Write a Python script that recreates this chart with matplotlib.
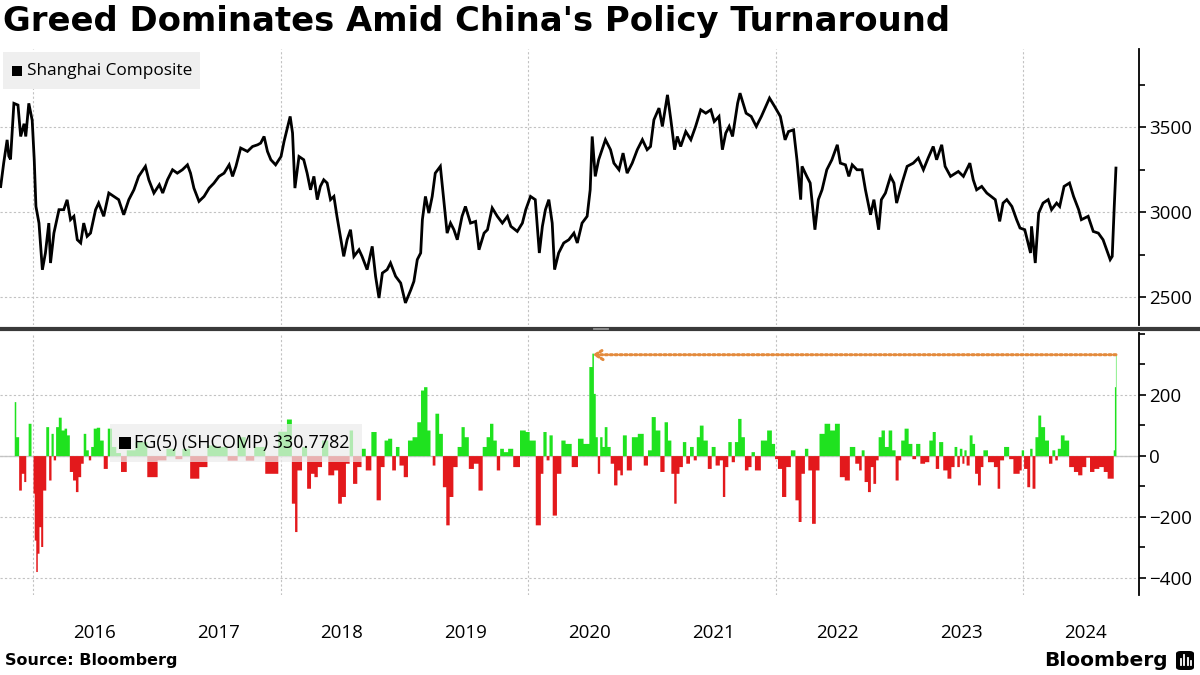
import matplotlib
matplotlib.use('Agg')
import matplotlib.pyplot as plt
import matplotlib.dates as mdates
from matplotlib.patches import Rectangle, FancyBboxPatch
from matplotlib.lines import Line2D
from matplotlib.ticker import MultipleLocator, FixedLocator
import numpy as np
import pandas as pd

title = "Greed Dominates Amid China's Policy Turnaround"
source = "Source: Bloomberg"
line_label = "Shanghai Composite"
fg_label = "FG(5) (SHCOMP)"

# Shanghai Composite
sh_dates = [
    '2015-09-28', '2015-10-07', '2015-10-17', '2015-10-22', '2015-10-27', '2015-11-06', '2015-11-18',
    '2015-11-26', '2015-12-06', '2015-12-11', '2015-12-20', '2015-12-30',
    '2016-01-05', '2016-01-10', '2016-01-19', '2016-01-29', '2016-02-07', '2016-02-17', '2016-02-22',
    '2016-03-03', '2016-03-18', '2016-04-01', '2016-04-11', '2016-04-21', '2016-05-01', '2016-05-11',
    '2016-05-21', '2016-05-30', '2016-06-09', '2016-06-19', '2016-07-04', '2016-07-13', '2016-07-28',
    '2016-08-12', '2016-08-27', '2016-09-10', '2016-09-25', '2016-10-10', '2016-10-25', '2016-11-08',
    '2016-11-28', '2016-12-08', '2016-12-23',
    '2017-01-08', '2017-01-18', '2017-02-01', '2017-02-16', '2017-03-02', '2017-03-17', '2017-04-01',
    '2017-04-10', '2017-04-20', '2017-05-05', '2017-05-20', '2017-06-04', '2017-06-18', '2017-07-03',
    '2017-07-18', '2017-08-02', '2017-08-12', '2017-08-22', '2017-09-05', '2017-09-25', '2017-10-10',
    '2017-10-25', '2017-11-03', '2017-11-13', '2017-11-23', '2017-12-03', '2017-12-17',
    '2018-01-02', '2018-01-11', '2018-01-29', '2018-02-05', '2018-02-12', '2018-02-24', '2018-03-10',
    '2018-03-20', '2018-03-30', '2018-04-09', '2018-04-19', '2018-04-28', '2018-05-08', '2018-05-18',
    '2018-05-28', '2018-06-07', '2018-06-16', '2018-06-26', '2018-07-06', '2018-07-16', '2018-07-26',
    '2018-08-05', '2018-08-20', '2018-08-29', '2018-09-13', '2018-09-28', '2018-10-08', '2018-10-18',
    '2018-10-28', '2018-11-11', '2018-11-21', '2018-12-06', '2018-12-21',
    '2019-01-04', '2019-01-20', '2019-01-29', '2019-02-08', '2019-02-18', '2019-02-23', '2019-03-04',
    '2019-03-14', '2019-03-24', '2019-04-02', '2019-04-17', '2019-04-27', '2019-05-07', '2019-05-17',
    '2019-05-27', '2019-06-06', '2019-06-20', '2019-06-30', '2019-07-15', '2019-07-30', '2019-08-09',
    '2019-08-24', '2019-09-03', '2019-09-17', '2019-10-02', '2019-10-17', '2019-11-01', '2019-11-11',
    '2019-11-30', '2019-12-15', '2019-12-25',
    '2020-01-08', '2020-01-22', '2020-02-03', '2020-02-12', '2020-02-21', '2020-03-02', '2020-03-12',
    '2020-03-19', '2020-03-31', '2020-04-15', '2020-04-30', '2020-05-15', '2020-05-25', '2020-06-08',
    '2020-06-23', '2020-07-02', '2020-07-08', '2020-07-17', '2020-07-27', '2020-08-06', '2020-08-16',
    '2020-08-31', '2020-09-10', '2020-09-25', '2020-10-07', '2020-10-19', '2020-11-03', '2020-11-18',
    '2020-12-03', '2020-12-17', '2020-12-27',
    '2021-01-06', '2021-01-21', '2021-01-31', '2021-02-15', '2021-02-25', '2021-03-08', '2021-03-16',
    '2021-03-26', '2021-04-10', '2021-04-25', '2021-05-09', '2021-05-24', '2021-06-08', '2021-06-23',
    '2021-07-03', '2021-07-17', '2021-07-27', '2021-08-06', '2021-08-16', '2021-08-26', '2021-09-10',
    '2021-09-17', '2021-10-05', '2021-10-20', '2021-11-04', '2021-11-19', '2021-12-13', '2021-12-28',
    '2022-01-14', '2022-01-28', '2022-02-07', '2022-02-22', '2022-03-04', '2022-03-15', '2022-03-19',
    '2022-04-02', '2022-04-12', '2022-04-26', '2022-05-06', '2022-05-17', '2022-05-31', '2022-06-15',
    '2022-07-01', '2022-07-10', '2022-07-25', '2022-08-04', '2022-08-14', '2022-08-28', '2022-09-12',
    '2022-09-22', '2022-10-07', '2022-10-17', '2022-10-31', '2022-11-08', '2022-11-20', '2022-12-05',
    '2022-12-15', '2022-12-23',
    '2023-01-08', '2023-01-23', '2023-02-10', '2023-02-25', '2023-03-12', '2023-03-26', '2023-04-10',
    '2023-04-20', '2023-05-05', '2023-05-15', '2023-05-31', '2023-06-08', '2023-06-23', '2023-07-08',
    '2023-07-27', '2023-08-06', '2023-08-16', '2023-08-31', '2023-09-15', '2023-10-10', '2023-10-23',
    '2023-11-02', '2023-11-13', '2023-11-28', '2023-12-12', '2023-12-22',
    '2024-01-05', '2024-01-22', '2024-01-25', '2024-02-05', '2024-02-15', '2024-02-28', '2024-03-14',
    '2024-03-24', '2024-04-08', '2024-04-17', '2024-04-30', '2024-05-16', '2024-05-28', '2024-06-12',
    '2024-06-20', '2024-07-10', '2024-07-25', '2024-08-09', '2024-08-23', '2024-09-13', '2024-09-19',
    '2024-09-25', '2024-09-30',
]
sh_values = [
    3150, 3290, 3425, 3330, 3310, 3640, 3630, 3445, 3520, 3445, 3640, 3540,
    3308, 3033, 2935, 2660, 2759, 2935, 2700, 2876, 3014, 3014, 3072, 2955, 2975, 2837,
    2818, 2935, 2857, 2876, 3014, 3053, 2975, 3112, 3092, 3073, 2984, 3073, 3131, 3210,
    3269, 3190, 3112,
    3161, 3112, 3190, 3249, 3229, 3249, 3278, 3229, 3141, 3063, 3092, 3141, 3170, 3210,
    3229, 3278, 3210, 3269, 3377, 3357, 3386, 3396, 3406, 3445, 3357, 3308, 3278,
    3327, 3416, 3563, 3465, 3141, 3327, 3308, 3229, 3131, 3210, 3073, 3151, 3190, 3171,
    3073, 3092, 2975, 2857, 2739, 2837, 2896, 2739, 2778, 2739, 2661, 2798, 2621, 2494,
    2641, 2661, 2700, 2622, 2582,
    2465, 2543, 2592, 2720, 2759, 2955, 3092, 2994, 3092, 3229, 3269, 3073, 2876, 2935,
    2896, 2837, 2975, 3033, 2935, 2945, 2778, 2876, 2896, 3024, 2975, 2935, 2975, 2916,
    2886, 2935, 3014,
    3092, 3073, 2759, 2916, 3014, 3073, 2935, 2661, 2759, 2818, 2837, 2876, 2818, 2935,
    2975, 3131, 3445, 3210, 3308, 3367, 3426, 3367, 3288, 3249, 3347, 3229, 3288, 3367,
    3426, 3367, 3386,
    3543, 3612, 3504, 3690, 3543, 3367, 3445, 3386, 3474, 3426, 3504, 3602, 3582, 3602,
    3533, 3563, 3367, 3465, 3504, 3445, 3641, 3700, 3582, 3563, 3504, 3563, 3671, 3622,
    3563, 3425, 3474, 3484, 3308, 3073, 3269, 3210, 3171, 2896, 3073, 3131, 3249, 3308,
    3396, 3288, 3278, 3210, 3278, 3249, 3249, 3131, 2984, 3073, 2896, 3073, 3112, 3210,
    3171, 3053,
    3171, 3269, 3288, 3318, 3249, 3318, 3386, 3308, 3396, 3269, 3210, 3220, 3239, 3210,
    3288, 3190, 3131, 3151, 3112, 3073, 2945, 3053, 3073, 3033, 2955, 2906,
    2896, 2759, 2916, 2700, 2994, 3053, 3073, 3014, 3053, 3033, 3151, 3171, 3092, 3014,
    2955, 2975, 2886, 2876, 2837, 2720, 2739, 3033, 3259,
]

# FG(5) indicator on SHCOMP
fg_dates = [
    '2015-11-07', '2015-11-16', '2015-11-24', '2015-12-02', '2015-12-08', '2015-12-14', '2015-12-22', '2015-12-31',
    '2016-01-03', '2016-01-07', '2016-01-12', '2016-01-16', '2016-01-22', '2016-01-26', '2016-02-03', '2016-02-13',
    '2016-02-20', '2016-02-27', '2016-03-04', '2016-03-12', '2016-03-20', '2016-03-29', '2016-04-06', '2016-04-13',
    '2016-04-22', '2016-05-02', '2016-05-09', '2016-05-17', '2016-05-25', '2016-06-01', '2016-06-09', '2016-06-16',
    '2016-06-23', '2016-07-01', '2016-07-11', '2016-07-21', '2016-08-01', '2016-08-14', '2016-08-26', '2016-09-08',
    '2016-09-23', '2016-10-12', '2016-11-13', '2016-12-21',
    '2017-01-13', '2017-02-11', '2017-03-07', '2017-03-24', '2017-04-22', '2017-05-17', '2017-06-09', '2017-07-09',
    '2017-08-14', '2017-09-06', '2017-10-01', '2017-10-26', '2017-12-05',
    '2018-01-11', '2018-01-25', '2018-02-09', '2018-02-13', '2018-02-23', '2018-03-12', '2018-03-25', '2018-04-04',
    '2018-04-14', '2018-04-24', '2018-05-09', '2018-05-31', '2018-06-13', '2018-06-23', '2018-07-05', '2018-07-17',
    '2018-07-27', '2018-08-06', '2018-08-21', '2018-08-31', '2018-09-15', '2018-10-03', '2018-10-16', '2018-10-28',
    '2018-11-07', '2018-11-18', '2018-12-01', '2018-12-10', '2018-12-22',
    '2019-01-04', '2019-01-16', '2019-01-31', '2019-02-13', '2019-02-22', '2019-03-03', '2019-03-14', '2019-03-21',
    '2019-03-27', '2019-04-06', '2019-04-18', '2019-04-28', '2019-05-08', '2019-05-18', '2019-05-30', '2019-06-12',
    '2019-06-22', '2019-07-01', '2019-07-16', '2019-07-31', '2019-08-12', '2019-08-25', '2019-09-04', '2019-09-14',
    '2019-09-24', '2019-10-04', '2019-10-14', '2019-10-26', '2019-11-08', '2019-11-25', '2019-12-18', '2019-12-29',
    '2020-01-10', '2020-02-03', '2020-02-09', '2020-02-18', '2020-02-28', '2020-03-06', '2020-03-18', '2020-03-31',
    '2020-04-13', '2020-04-25', '2020-05-19', '2020-06-01', '2020-06-21', '2020-07-05', '2020-07-09', '2020-07-14',
    '2020-07-20', '2020-07-26', '2020-08-03', '2020-08-09', '2020-08-16', '2020-08-25', '2020-09-04', '2020-09-14',
    '2020-09-24', '2020-10-01', '2020-10-09', '2020-10-24', '2020-11-08', '2020-11-28', '2020-12-13', '2020-12-23',
    '2021-01-04', '2021-01-16', '2021-01-31', '2021-02-10', '2021-02-20', '2021-03-02', '2021-03-09', '2021-03-16',
    '2021-03-26', '2021-04-05', '2021-04-15', '2021-04-27', '2021-05-07', '2021-05-15', '2021-05-25', '2021-06-06',
    '2021-06-19', '2021-06-29', '2021-07-12', '2021-07-24', '2021-07-30', '2021-08-07', '2021-08-17', '2021-08-27',
    '2021-09-05', '2021-09-15', '2021-09-25', '2021-10-05', '2021-10-16', '2021-10-23', '2021-11-05', '2021-11-27',
    '2021-12-12', '2021-12-25', '2021-12-31',
    '2022-01-11', '2022-01-24', '2022-02-05', '2022-02-20', '2022-03-04', '2022-03-11', '2022-03-21', '2022-03-31',
    '2022-04-10', '2022-04-22', '2022-05-02', '2022-05-14', '2022-06-01', '2022-06-16', '2022-06-29', '2022-07-15',
    '2022-07-28', '2022-08-14', '2022-08-29', '2022-09-06', '2022-09-13', '2022-09-23', '2022-10-03', '2022-10-10',
    '2022-10-18', '2022-10-26', '2022-11-02', '2022-11-12', '2022-11-22', '2022-12-04', '2022-12-13', '2022-12-24',
    '2022-12-31',
    '2023-01-08', '2023-01-20', '2023-02-01', '2023-02-11', '2023-02-23', '2023-03-08', '2023-03-23', '2023-04-02',
    '2023-04-12', '2023-04-20', '2023-05-02', '2023-05-14', '2023-05-27', '2023-06-06', '2023-06-15', '2023-06-22',
    '2023-06-30', '2023-07-07', '2023-07-12', '2023-07-20', '2023-07-30', '2023-08-06', '2023-08-14', '2023-08-23',
    '2023-08-31', '2023-09-07', '2023-09-27', '2023-10-12', '2023-10-19', '2023-10-27', '2023-11-11', '2023-11-26',
    '2023-12-06', '2023-12-16', '2023-12-23', '2023-12-28',
    '2024-01-06', '2024-01-16', '2024-01-23', '2024-01-30', '2024-02-09', '2024-02-16', '2024-02-26', '2024-03-10',
    '2024-03-20', '2024-03-30', '2024-04-06', '2024-04-14', '2024-04-24', '2024-05-06', '2024-05-21', '2024-06-03',
    '2024-06-15', '2024-06-28', '2024-07-08', '2024-07-20', '2024-08-03', '2024-08-18', '2024-08-29', '2024-09-10',
    '2024-09-20', '2024-09-24', '2024-09-27', '2024-09-30',
]
fg_values = [
    177, 62, -113, -58, -85, 0, 106, 0,
    -123, -277, -380, -320, -233, -298, -113, 95, -80, 73, -14, 95, 126, 84, 90, 68,
    -52, -80, -118, -69, -25, 73, 19, -14, 30, 90, 93, 51, -42, 90, 30, 10,
    -52, 19, 46, -69,
    -14, 24, -10, 24, -74, -36, 35, 30, -15, 62, -15, 30, -58,
    80, 120, -156, -249, -47, 30, -107, -58, -69, -36, 51, -63, -47, -156, -134, -25,
    84, -91, -36, 24, -47, 79, -145, -36, 51, 57, -47, 30, -31,
    -69, 51, 62, 111, 215, 226, 84, 0, -31, 139, 73, -102, -227, -134, -36, 30,
    95, 62, -42, -25, -113, 30, 62, 106, 51, -47, 24, 13, 24, -36, 84, 79,
    51, -227, -58, 79, -14, 68, -195, -58, 51, 40, -36, 57, 40, 292, 336, 204,
    62, -58, 62, 30, 95, 30, -25, -96, -47, -63, 68, -47, 62, 73, -31, 19,
    128, 84, -52, 111, 51, -58, -156, -58, -36, 46, -25, 30, -14, 62, 100, 51,
    -42, 30, -31, -14, -134, -36, 46, -20, 46, 122, 62, -47, -36, 13, -47, 51,
    84, 40, -10,
    -42, -134, -36, 19, -145, -216, -58, 24, -47, -222, -47, 73, 106, 84, 106, -69,
    -80, 30, -25, -47, 19, -85, -118, -36, -91, -14, 62, 84, 30, 84, 19, -80,
    -14,
    51, 90, 40, -10, 40, -25, -20, 51, 79, -42, 46, -47, -74, -36, 30, -36,
    24, -25, 19, -31, 68, 40, -58, -96, -36, 19, -20, -36, -107, -14, 30, -10,
    -58, -58, -47, 19,
    -42, -102, 24, -107, 62, 133, 95, 51, -25, 19, -14, 24, 68, 51, -36, -52,
    -63, -36, -5, -52, -42, -36, -52, -74, -74, 19, 226, 330.7782,
]

W, H = 1200, 675
fig = plt.figure(figsize=(12, 6.75), dpi=100)


def fx(x):
    return x / W


def fy(y):
    return 1 - y / H


ax1 = fig.add_axes([0, fy(325), fx(1139), (325 - 49) / H])
ax2 = fig.add_axes([0, fy(595), fx(1139), (595 - 333) / H], sharex=ax1)

sh_d = pd.to_datetime(sh_dates)
fg_d = pd.to_datetime(fg_dates)
fg_v = np.array(fg_values, dtype=float)

green = '#1fe21f'
red = '#e3191c'
grid_kw = dict(color='#c2c2c2', linestyle=(0, (2, 2)), linewidth=0.8)

ax1.plot(sh_d, sh_values, color='black', lw=2.0, solid_joinstyle='miter')

ax2.axhline(0, color='#c8c8c8', lw=1, zorder=0.8)
ax2.fill_between(fg_d, 0, np.where(fg_v > 0, fg_v, 0), step='mid', color=green, lw=0, zorder=2)
ax2.fill_between(fg_d, 0, np.where(fg_v < 0, fg_v, 0), step='mid', color=red, lw=0, zorder=2)

# dotted arrow from the latest reading back to the previous high
i_peak = int(np.argmax(fg_v[:-1]))
ax2.annotate('', xy=(fg_d[i_peak], fg_v[-1]), xytext=(fg_d[-1], fg_v[-1]),
             arrowprops=dict(arrowstyle='->,head_length=0.55,head_width=0.35',
                             color='#e38a3c', lw=2.2, linestyle=(0, (0.7, 0.9)),
                             shrinkA=0, shrinkB=0), zorder=3)

for ax in (ax1, ax2):
    for s in ('left', 'top', 'bottom'):
        ax.spines[s].set_visible(False)
    ax.spines['right'].set_linewidth(1.3)
    ax.yaxis.tick_right()
    ax.tick_params(axis='y', which='major', direction='out', length=5, width=1.2,
                   labelsize=13.5, pad=2)
    ax.tick_params(axis='y', which='minor', direction='out', length=4, width=1.2)
    ax.grid(True, which='major', axis='both', **grid_kw)

ax1.set_ylim(2335, 3960)
ax1.yaxis.set_major_locator(FixedLocator([2500, 3000, 3500]))
ax1.yaxis.set_minor_locator(MultipleLocator(250))

ax2.set_ylim(-457, 402)
ax2.yaxis.set_major_locator(FixedLocator([-400, -200, 0, 200]))
ax2.yaxis.set_minor_locator(MultipleLocator(100))

ax2.set_xlim(pd.Timestamp('2015-09-26'), pd.Timestamp('2024-12-07'))
ax2.xaxis.set_major_locator(mdates.YearLocator(2))
ax2.xaxis.set_major_formatter(plt.NullFormatter())
ax2.xaxis.set_minor_locator(mdates.YearLocator(1, month=7, day=1))
ax2.xaxis.set_minor_formatter(mdates.DateFormatter('%Y'))
ax2.tick_params(axis='x', which='both', length=0, labelsize=13.5, pad=21)
ax1.tick_params(axis='x', which='both', labelbottom=False, length=0)
for lab in ax2.get_xticklabels(minor=True) + ax1.get_yticklabels() + ax2.get_yticklabels():
    lab.set_family('Open Sans')

# panel separator
fig.add_artist(Line2D([0, 1], [fy(328.5), fy(328.5)], color='#3a3a3a', lw=3,
                      transform=fig.transFigure))
for yy in (327.6, 329.4):
    fig.add_artist(Line2D([fx(593), fx(608)], [fy(yy), fy(yy)], color='#9a9a9a', lw=0.6,
                          transform=fig.transFigure))

# legend boxes
fig.add_artist(Rectangle((fx(3), fy(89)), fx(197), (89 - 52) / H, facecolor='#efefef',
                         edgecolor='none', transform=fig.transFigure))
fig.add_artist(Rectangle((fx(12), fy(76)), fx(10), 10 / H, facecolor='black',
                         edgecolor='none', transform=fig.transFigure))
fig.text(fx(27), fy(71), line_label, fontsize=12.4, family='Open Sans', va='center', ha='left')

fig.add_artist(Rectangle((fx(110), fy(462)), fx(252), (462 - 424) / H, facecolor='#ececec',
                         alpha=0.72, edgecolor='none', transform=fig.transFigure, zorder=5))
fig.add_artist(Rectangle((fx(119), fy(449)), fx(12), 12 / H, facecolor='black',
                         edgecolor='none', transform=fig.transFigure, zorder=6))
fig.text(fx(134), fy(443), f'{fg_label} {fg_values[-1]:.4f}', fontsize=13,
         family='Open Sans', va='center', ha='left', zorder=6)

# title and footer
fig.text(fx(3), fy(22), title, fontsize=24.4, weight='bold', va='center', ha='left')
fig.text(fx(5), fy(661), source, fontsize=11.5, weight='bold', va='center', ha='left')
fig.text(fx(1168), fy(660), 'Bloomberg', fontsize=14.5, weight='bold', va='center', ha='right')
fig.add_artist(FancyBboxPatch((fx(1176), fy(670)), fx(18), 19 / H,
                              boxstyle='round,pad=0,rounding_size=0.004',
                              facecolor='black', edgecolor='none', transform=fig.transFigure))
for bx, bh in ((1180.5, 6), (1184, 10), (1187.5, 7), (1190.5, 4)):
    fig.add_artist(Line2D([fx(bx), fx(bx)], [fy(665), fy(665 - bh)], color='white', lw=1.3,
                          transform=fig.transFigure))

fig.savefig('out.png', dpi=100)
